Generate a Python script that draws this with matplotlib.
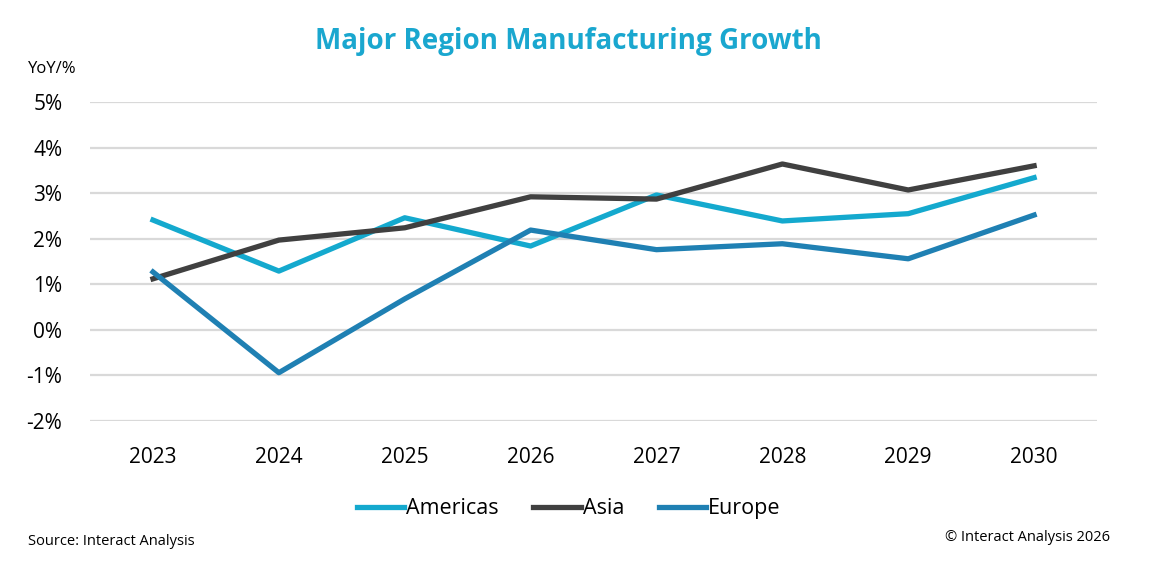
import matplotlib
matplotlib.use("Agg")
import matplotlib.pyplot as plt
import numpy as np

plt.rcParams['font.family'] = ['Open Sans', 'DejaVu Sans']

years = ['2023', '2024', '2025', '2026', '2027', '2028', '2029', '2030']
americas = [2.41, 1.29, 2.46, 1.84, 2.96, 2.39, 2.55, 3.34]
asia = [1.12, 1.97, 2.24, 2.92, 2.87, 3.64, 3.07, 3.60]
europe = [1.27, -0.94, 0.68, 2.19, 1.76, 1.89, 1.56, 2.52]
yticks = [-2, -1, 0, 1, 2, 3, 4, 5]

fig = plt.figure(figsize=(11.56, 5.78), dpi=100)
ax = fig.add_axes([0.0779, 0.2716, 0.8711, 0.5519])

x = np.arange(len(years))
ax.plot(x, americas, color='#14A9CE', lw=3.8, label='Americas', zorder=3)
ax.plot(x, asia, color='#404040', lw=3.8, label='Asia', zorder=3)
ax.plot(x, europe, color='#1F80B3', lw=3.8, label='Europe', zorder=3)

ax.set_xlim(-0.5, len(years) - 0.5)
ax.set_ylim(-2, 5)
ax.set_xticks(x)
ax.set_xticklabels(years, fontsize=15)
ax.set_yticks(yticks)
ax.set_yticklabels([f"{v}%" for v in yticks], fontsize=15)
ax.yaxis.grid(True, color='#D9D9D9', lw=1.6)
ax.set_axisbelow(True)
ax.tick_params(axis='x', length=0, pad=19)
ax.tick_params(axis='y', length=0, pad=20)
for s in ax.spines.values():
    s.set_visible(False)

fig.text(0.492, 0.928, 'Major Region Manufacturing Growth', ha='center', va='center',
         fontsize=20, fontweight='bold', color='#1AA7CF')
fig.text(0.024, 0.88, 'YoY/%', ha='left', va='center', fontsize=12)

leg = fig.legend(loc='center', bbox_to_anchor=(0.492, 0.12), ncol=3, frameon=False,
                 fontsize=15.5, handlelength=2.2, handletextpad=0.1, columnspacing=1.6)

fig.text(0.024, 0.063, 'Source: Interact Analysis', ha='left', va='center', fontsize=10.5)
fig.text(0.96, 0.07, '© Interact Analysis 2026', ha='right', va='center', fontsize=10.5)

fig.savefig('out.png', dpi=100)
